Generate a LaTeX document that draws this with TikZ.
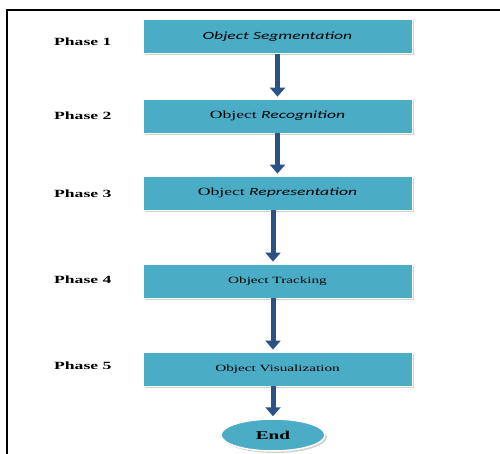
\documentclass[tikz,border=0pt]{standalone}
\usepackage{fontspec}
\setmainfont[FakeStretch=1.6]{Liberation Serif}
\newfontfamily\calib[FakeStretch=1.6]{Carlito}
\usetikzlibrary{shadows,arrows.meta,shapes.geometric,calc}
\definecolor{boxfill}{HTML}{4BACC6}
\definecolor{arrowblue}{HTML}{2A5286}
\begin{document}
\begin{tikzpicture}[x=1pt,y=-1pt,
  phasebox/.style={rectangle, fill=boxfill, draw=white, line width=0.8pt,
    minimum width=269pt, minimum height=34pt, inner sep=0pt,
    drop shadow={shadow xshift=2pt, shadow yshift=-2pt, fill=black!30, opacity=0.6}},
  endbox/.style={ellipse, fill=boxfill, draw=white, line width=1.5pt,
    minimum width=104pt, minimum height=32pt, inner sep=0pt,
    drop shadow={shadow xshift=2pt, shadow yshift=-2pt, fill=black!30, opacity=0.6}},
  phaselabel/.style={anchor=west, font=\fontsize{11pt}{13pt}\selectfont\bfseries, inner sep=0pt},
  flow/.style={draw=arrowblue, line width=5pt, -{Triangle[width=15pt,length=9pt]}, shorten >=2pt}
]
\useasboundingbox (0,0) rectangle (500,454);
\draw[line width=1.6pt, black] (7,454) -- (7,10) -- (500,10);

\node[phasebox] (b1) at (277.5,36.5) {\raisebox{1.5pt}{\calib\itshape\fontsize{11pt}{13pt}\selectfont Object Segmentation}};
\node[phasebox] (b2) at (277.5,116) {\fontsize{11pt}{13pt}\selectfont Object {\calib\itshape Recognition}};
\node[phasebox] (b3) at (277.5,193) {\raisebox{2pt}{\fontsize{11pt}{13pt}\selectfont Object {\calib\itshape Representation}}};
\node[phasebox] (b4) at (277.5,281) {\fontsize{9.5pt}{11pt}\selectfont Object Tracking};
\node[phasebox] (b5) at (277.5,369) {\fontsize{9.5pt}{11pt}\selectfont Object Visualization};
\node[endbox] (e) at (273,435) {\fontsize{12pt}{14pt}\selectfont\bfseries End};

\node[phaselabel] (p1) at (54,42) {Phase 1};
\node[phaselabel] (p2) at (54,116) {Phase 2};
\node[phaselabel] (p3) at (54,194) {Phase 3};
\node[phaselabel] (p4) at (54,280) {Phase 4};
\node[phaselabel] (p5) at (54,366) {Phase 5};

\draw[flow] (b1.south) -- (b2.north);
\draw[flow] (b2.south) -- (b3.north);
\draw[flow] (b3.south -| e.north) -- (b4.north -| e.north);
\draw[flow] (b4.south -| e.north) -- (b5.north -| e.north);
\draw[flow] (b5.south -| e.north) -- (e.north);
\end{tikzpicture}
\end{document}
